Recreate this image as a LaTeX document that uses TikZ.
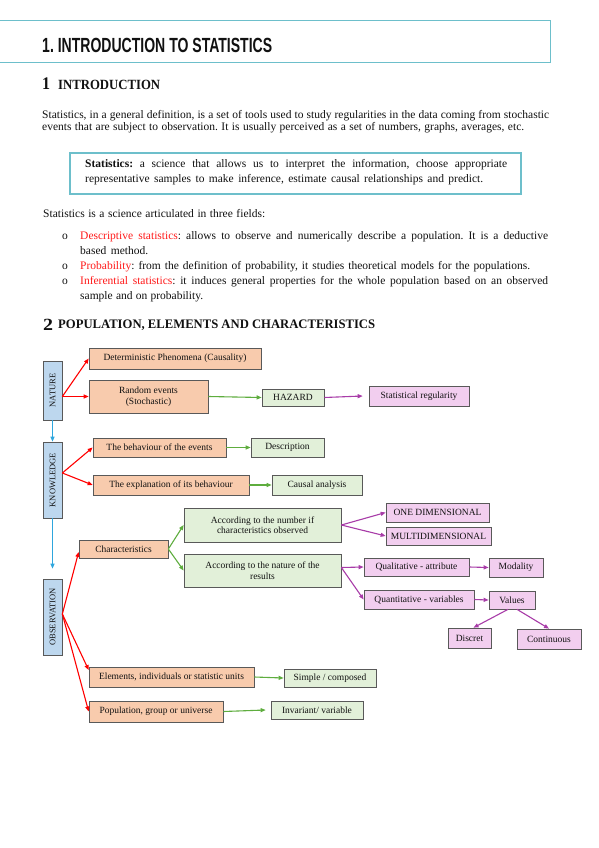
\documentclass[tikz,border=0pt]{standalone}
\usepackage{fontspec}
\usepackage{graphicx}
\setmainfont{Liberation Serif}
\newfontfamily\titlefont{Liberation Sans}
\usetikzlibrary{arrows.meta}
\definecolor{salm}{HTML}{F8CBAD}
\definecolor{lgreen}{HTML}{E2F0D9}
\definecolor{lpink}{HTML}{F2CEEF}
\definecolor{lblue}{HTML}{BDD7EE}
\definecolor{bord}{HTML}{595959}
\definecolor{redc}{HTML}{FF0000}
\definecolor{redt}{HTML}{FF1A1A}
\definecolor{greenc}{HTML}{5EAD3E}
\definecolor{purc}{HTML}{A83CA8}
\definecolor{bluec}{HTML}{2EA6DD}
\definecolor{tealc}{HTML}{6DBFCB}
\definecolor{txt}{HTML}{111111}
\newcommand{\jline}[2]{\makebox[#1pt][s]{#2}}
\frenchspacing
\begin{document}
\begin{tikzpicture}[x=1pt,y=-1pt,
  box/.style={draw=bord, line width=0.7pt, inner sep=1pt, align=center, text=txt,
    font=\fontsize{9.5}{10.5}\selectfont},
  sal/.style={box, fill=salm},
  grn/.style={box, fill=lgreen},
  pnk/.style={box, fill=lpink},
  vbl/.style={box, fill=lblue, font=\fontsize{8.5}{9}\selectfont},
  tipa/.style={-{Triangle[length=5pt,width=4pt]}},
  ra/.style={tipa, draw=redc, line width=1.1pt},
  ga/.style={tipa, draw=greenc, line width=1.1pt},
  pa/.style={tipa, draw=purc, line width=1.1pt},
  ba/.style={tipa, draw=bluec, line width=1.1pt},
  body/.style={anchor=base west, inner sep=0, text=txt, font=\fontsize{11.5}{13}\selectfont\frenchspacing}
]
\fill[white] (0,0) rectangle (599,848);
\useasboundingbox (0,0) rectangle (599,848);

% ---------- header ----------
\node[draw=tealc, line width=1pt, minimum width=553pt, minimum height=41.7pt, anchor=north west, inner sep=0] (hdr) at (-3,20) {};
\node[anchor=south west, inner sep=0, text=txt] (title) at (42,53.3) {\resizebox{230pt}{14.3pt}{\titlefont\bfseries 1. INTRODUCTION TO STATISTICS}};

\node[anchor=south west, inner sep=0, text=txt] (h1n) at (42,90) {\resizebox{8pt}{11.7pt}{\bfseries 1}};
\node[anchor=south west, inner sep=0, text=txt] (h1t) at (58,90) {\resizebox{102pt}{9.3pt}{\bfseries INTRODUCTION}};

\node[body] (p1) at (42,118) {\jline{507}{Statistics, in a general definition, is a set of tools used to study regularities in the data coming from stochastic}};
\node[body] (p2) at (42,131) {\jline{482}{events that are subject to observation. It is usually perceived as a set of numbers, graphs, averages, etc.}};

\node[draw=tealc, line width=1.5pt, minimum width=451pt, minimum height=41pt, anchor=north west, inner sep=0] (defbox) at (69,152) {};
\node[body] (d1) at (85,167.7) {\jline{422}{\textbf{Statistics:} a science that allows us to interpret the information, choose appropriate}};
\node[body] (d2) at (85,182.3) {\jline{398}{representative samples to make inference, estimate causal relationships and predict.}};

\node[body] (f) at (43,217) {\jline{222}{Statistics is a science articulated in three fields:}};

\node[body] (o1) at (62,239.3) {o};
\node[body] (b1a) at (80,239.3) {\jline{468}{\textcolor{redt}{Descriptive statistics}: allows to observe and numerically describe a population. It is a deductive}};
\node[body] (b1b) at (80,254.3) {\jline{68}{based method.}};
\node[body] (o2) at (62,269.3) {o};
\node[body] (b2) at (80,269.3) {\jline{450}{\textcolor{redt}{Probability}: from the definition of probability, it studies theoretical models for the populations.}};
\node[body] (o3) at (62,284) {o};
\node[body] (b3a) at (80,284) {\jline{468}{\textcolor{redt}{Inferential statistics}: it induces general properties for the whole population based on an observed}};
\node[body] (b3b) at (80,299.3) {\jline{123}{sample and on probability.}};

\node[anchor=south west, inner sep=0, text=txt] (h2n) at (43,330.7) {\resizebox{10pt}{11.3pt}{\bfseries 2}};
\node[anchor=south west, inner sep=0, text=txt] (h2t) at (58,330.7) {\resizebox{317pt}{8.6pt}{\bfseries POPULATION, ELEMENTS AND CHARACTERISTICS}};

% ---------- diagram ----------
\node[vbl, minimum width=19pt, minimum height=59pt] (nat) at (52.5,390.5) {\rotatebox{90}{NATURE}};
\node[vbl, minimum width=19pt, minimum height=76pt] (kno) at (52.5,480) {\rotatebox{90}{KNOWLEDGE}};
\node[vbl, minimum width=19pt, minimum height=76pt] (obs) at (52.5,617) {\rotatebox{90}{OBSERVATION}};

\node[sal, minimum width=172pt, minimum height=21pt] (det) at (175,358.5) {Deterministic Phenomena (Causality)};
\node[sal, minimum width=119pt, minimum height=33pt] (rnd) at (148.5,396.5) {Random events\\(Stochastic)};
\node[grn, minimum width=62pt, minimum height=17pt] (haz) at (293,397.5) {HAZARD};
\node[pnk, minimum width=100pt, minimum height=20pt] (reg) at (419,396) {Statistical regularity};

\node[sal, minimum width=133pt, minimum height=19pt] (beh) at (159.5,447.5) {The behaviour of the events};
\node[grn, minimum width=73pt, minimum height=19pt] (des) at (287.5,447.5) {Description};
\node[sal, minimum width=156pt, minimum height=20pt] (exp) at (171,485) {The explanation of its behaviour};
\node[grn, minimum width=90pt, minimum height=20pt] (cau) at (317,485) {Causal analysis};

\node[sal, minimum width=89pt, minimum height=18pt] (cha) at (123.5,549) {Characteristics};
\node[grn, minimum width=157pt, minimum height=34pt] (num) at (262.5,525) {According to the number if\\characteristics observed};
\node[grn, minimum width=157pt, minimum height=33pt] (nau) at (262.5,570.5) {According to the nature of the\\results};
\node[pnk, minimum width=103pt, minimum height=19pt] (one) at (437.5,512.5) {ONE DIMENSIONAL};
\node[pnk, minimum width=105pt, minimum height=18pt] (mul) at (438.5,536) {MULTIDIMENSIONAL};
\node[pnk, minimum width=105pt, minimum height=18pt] (qual) at (416.5,567) {Qualitative - attribute};
\node[pnk, minimum width=54pt, minimum height=19pt] (mod) at (516,567.5) {Modality};
\node[pnk, minimum width=110pt, minimum height=19pt] (quan) at (419,599.5) {Quantitative - variables};
\node[pnk, minimum width=46pt, minimum height=18pt] (val) at (512,600) {Values};
\node[pnk, minimum width=43pt, minimum height=20pt] (dis) at (469.5,638) {Discret};
\node[pnk, minimum width=64pt, minimum height=20pt] (con) at (549,639) {Continuous};

\node[sal, minimum width=165pt, minimum height=20pt] (ele) at (171.5,677) {Elements, individuals or statistic units};
\node[grn, minimum width=92pt, minimum height=18pt] (sim) at (330,678) {Simple / composed};
\node[sal, minimum width=134pt, minimum height=21pt] (pop) at (156,711.5) {Population, group or universe};
\node[grn, minimum width=92pt, minimum height=18pt] (inv) at (317,710) {Invariant/ variable};

% connectors
\draw[ba] (nat.south) -- (kno.north);
\draw[ba] (kno.south) -- ([yshift=10pt]obs.north);

\draw[ra] ([yshift=-6pt]nat.east) -- (det.west);
\draw[ra] ([yshift=-6pt]nat.east) -- (rnd.west);
\draw[ga] (rnd.east) -- (haz.west);
\draw[pa] (haz.east) -- ([xshift=-6pt]reg.west);

\draw[ra] ([yshift=7pt]kno.east) -- (beh.west);
\draw[ra] ([yshift=7pt]kno.east) -- (exp.west);
\draw[ga] (beh.east) -- (des.west);
\draw[ga] (exp.east) -- (cau.west);

\draw[ra] ([yshift=3pt]obs.east) -- ([yshift=-3pt]cha.west);
\draw[ra] ([yshift=3pt]obs.east) -- ([yshift=7pt]ele.west);
\draw[ra] ([yshift=3pt]obs.east) -- (pop.west);
\draw[ga] (cha.east) -- (num.west);
\draw[ga] (cha.east) -- (nau.west);
\draw[pa] (num.east) -- (one.west);
\draw[pa] (num.east) -- (mul.west);
\draw[pa] ([yshift=3pt]nau.east) -- (qual.west);
\draw[pa] ([yshift=3pt]nau.east) -- (quan.west);
\draw[pa] (qual.east) -- (mod.west);
\draw[pa] (quan.east) -- (val.west);
\draw[pa] ([xshift=-4pt]val.south) -- ([xshift=4pt]dis.north);
\draw[pa] ([xshift=5pt]val.south) -- (con.north);
\draw[ga] (ele.east) -- (sim.west);
\draw[ga] (pop.east) -- ([xshift=-5pt]inv.west);
\end{tikzpicture}
\end{document}
